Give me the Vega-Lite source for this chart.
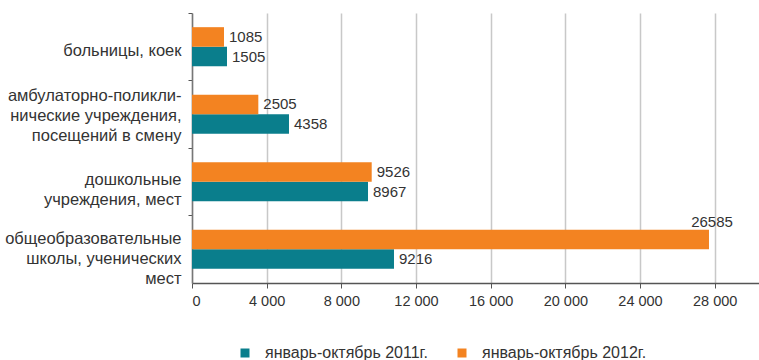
{
  "$schema": "https://vega.github.io/schema/vega-lite/v6.json",
  "width": 567,
  "height": 270,
  "padding": {"left": 192, "top": 13, "right": 0, "bottom": 77},
  "autosize": {"type": "none"},
  "background": "white",
  "config": {
    "view": {"stroke": null},
    "font": "Liberation Sans",
    "text": {"font": "Liberation Sans"}
  },
  "data": {
    "values": [
      {"cat": "больницы, коек", "period": "январь-октябрь 2011г.", "value": 1875, "label": "1505"},
      {"cat": "больницы, коек", "period": "январь-октябрь 2012г.", "value": 1714, "label": "1085"},
      {"cat": "амбулаторно-поликли-|нические учреждения,|посещений в смену", "period": "январь-октябрь 2011г.", "value": 5196, "label": "4358"},
      {"cat": "амбулаторно-поликли-|нические учреждения,|посещений в смену", "period": "январь-октябрь 2012г.", "value": 3553, "label": "2505"},
      {"cat": "дошкольные|учреждения, мест", "period": "январь-октябрь 2011г.", "value": 9429, "label": "8967"},
      {"cat": "дошкольные|учреждения, мест", "period": "январь-октябрь 2012г.", "value": 9627, "label": "9526"},
      {"cat": "общеобразовательные|школы, ученических|мест", "period": "январь-октябрь 2011г.", "value": 10821, "label": "9216"},
      {"cat": "общеобразовательные|школы, ученических|мест", "period": "январь-октябрь 2012г.", "value": 27696, "label": "26585"}
    ]
  },
  "encoding": {
    "y": {
      "field": "cat",
      "type": "nominal",
      "sort": null,
      "scale": {"paddingInner": 0.42, "paddingOuter": 0.21},
      "axis": {
        "title": null,
        "labelExpr": "split(datum.label, '|')",
        "labelFontSize": 16.5,
        "labelColor": "#333333",
        "labelLineHeight": 20,
        "labelAlign": "right",
        "labelBaseline": "middle",
        "labelOffset": {
          "condition": [
            {"test": "indexof(datum.value, 'общеобр') == 0", "value": -10},
            {"test": "length(split(datum.value, '|')) == 3", "value": -18},
            {"test": "length(split(datum.value, '|')) == 2", "value": -2}
          ],
          "value": 4
        },
        "labelPadding": 7,
        "tickSize": 4,
        "tickColor": "#555555",
        "domainColor": "#777777",
        "domainWidth": 1.5,
        "bandPosition": -0.36,
        "grid": false
      }
    },
    "yOffset": {
      "field": "period",
      "type": "nominal",
      "sort": ["январь-октябрь 2012г.", "январь-октябрь 2011г."],
      "scale": {"paddingInner": 0, "paddingOuter": 0}
    },
    "x": {
      "field": "value",
      "type": "quantitative",
      "scale": {"domain": [0, 30375], "nice": false},
      "axis": {
        "title": null,
        "values": [0, 4000, 8000, 12000, 16000, 20000, 24000, 28000],
        "labelExpr": "replace(format(datum.value, ','), ',', ' ')",
        "labelFontSize": 14.5,
        "labelColor": "#333333",
        "labelPadding": 6,
        "tickSize": 5,
        "tickColor": "#555555",
        "domainColor": "#555555",
        "domainWidth": 1.5,
        "grid": true,
        "gridColor": "#c8c8c8",
        "gridWidth": 1.5
      }
    }
  },
  "layer": [
    {
      "mark": {"type": "bar"},
      "encoding": {
        "color": {
          "field": "period",
          "type": "nominal",
          "scale": {
            "domain": ["январь-октябрь 2011г.", "январь-октябрь 2012г."],
            "range": ["#0a7e8c", "#f38321"]
          },
          "legend": {
            "title": null,
            "orient": "none",
            "direction": "horizontal",
            "legendX": 45,
            "legendY": 332,
            "symbolType": "square",
            "symbolSize": 81,
            "symbolStrokeWidth": 0,
            "labelFontSize": 16,
            "labelColor": "#333333",
            "labelLimit": 400,
            "labelOffset": 12,
            "columnPadding": 26
          }
        }
      }
    },
    {
      "transform": [{"filter": "datum.value < 20000"}],
      "mark": {"type": "text", "align": "left", "baseline": "middle", "dx": 5, "fontSize": 15, "color": "#333333"},
      "encoding": {"text": {"field": "label"}}
    },
    {
      "transform": [{"filter": "datum.value >= 20000"}],
      "mark": {"type": "text", "align": "center", "baseline": "middle", "dx": 3, "dy": -17, "fontSize": 15, "color": "#333333"},
      "encoding": {"text": {"field": "label"}}
    }
  ]
}
